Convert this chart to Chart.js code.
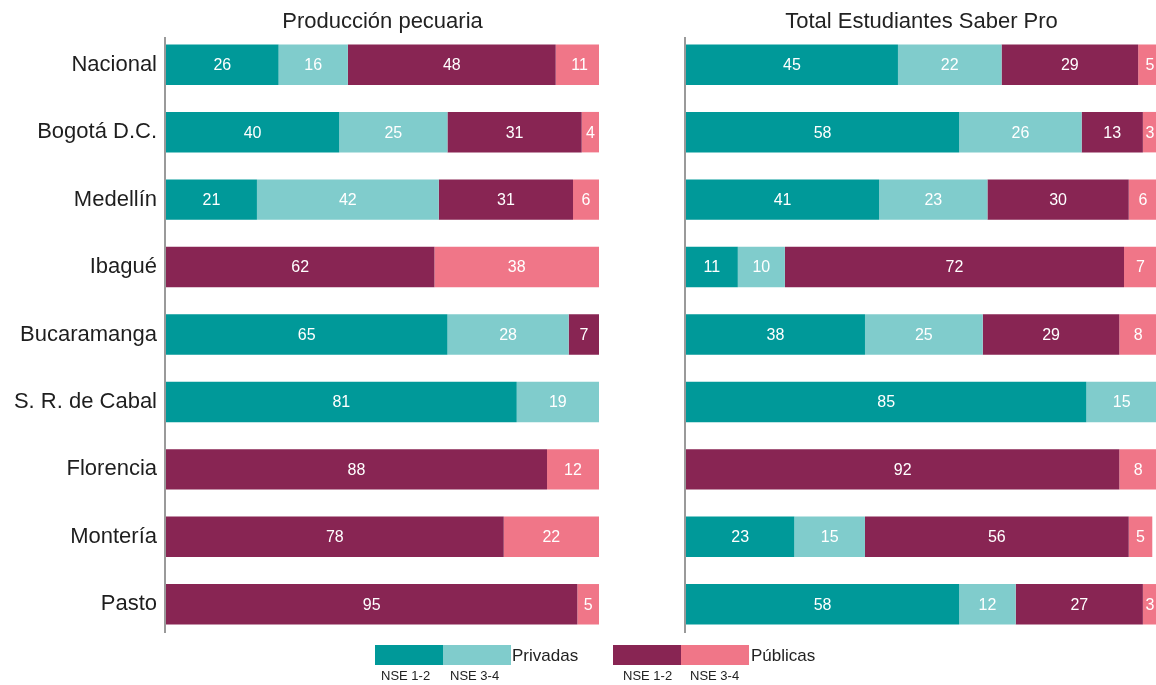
<!DOCTYPE html>
<html>
<head>
<meta charset="utf-8">
<script src="https://cdn.jsdelivr.net/npm/chart.js@4/dist/chart.umd.min.js"></script>
<style>
  html, body { margin: 0; padding: 0; background: #fff; }
  #wrap { position: relative; width: 1156px; height: 685px; overflow: hidden; font-family: 'Liberation Sans', Arial, sans-serif; }
  .cv { position: absolute; top: 0; }
  .sw { position: absolute; top: 645px; height: 20px; }
  .lt { position: absolute; color: #222; white-space: nowrap; line-height: 1; }
</style>
</head>
<body>
<div id="wrap">
  <div class="cv" style="left:0px;width:610px;height:685px;"><canvas id="c1" width="610" height="685"></canvas></div>
  <div class="cv" style="left:620px;width:560px;height:685px;"><canvas id="c2" width="560" height="685"></canvas></div>
  <div id="legend"></div>
</div>
<script>
// ---- Data ----
const categories = ['Nacional', 'Bogotá D.C.', 'Medellín', 'Ibagué', 'Bucaramanga', 'S. R. de Cabal', 'Florencia', 'Montería', 'Pasto'];
const seriesNames = ['Privadas NSE 1-2', 'Privadas NSE 3-4', 'Públicas NSE 1-2', 'Públicas NSE 3-4'];
const chartTitles = ['Producción pecuaria', 'Total Estudiantes Saber Pro'];

// Producción pecuaria
const pecPriv12 = [26, 40, 21, null, 65, 81, null, null, null];
const pecPriv34 = [16, 25, 42, null, 28, 19, null, null, null];
const pecPub12  = [48, 31, 31, 62, 7, null, 88, 78, 95];
const pecPub34  = [11, 4, 6, 38, null, null, 12, 22, 5];

// Total Estudiantes Saber Pro
const totPriv12 = [45, 58, 41, 11, 38, 85, null, 23, 58];
const totPriv34 = [22, 26, 23, 10, 25, 15, null, 15, 12];
const totPub12  = [29, 13, 30, 72, 29, null, 92, 56, 27];
const totPub34  = [5, 3, 6, 7, 8, null, 8, 5, 3];

const colors = ['#009999', '#80CCCC', '#882553', '#F07688'];
const FONT = "'Liberation Sans', Arial, sans-serif";

const valueLabels = {
  id: 'valueLabels',
  afterDatasetsDraw(chart) {
    const ctx = chart.ctx;
    ctx.save();
    ctx.font = '16px ' + FONT;
    ctx.fillStyle = '#ffffff';
    ctx.textAlign = 'center';
    ctx.textBaseline = 'middle';
    chart.data.datasets.forEach((ds, i) => {
      const meta = chart.getDatasetMeta(i);
      meta.data.forEach((bar, j) => {
        const v = ds.data[j];
        if (v == null) return;
        const p = bar.getProps(['x', 'y', 'base'], true);
        ctx.fillText(String(v), (p.x + p.base) / 2, p.y + 1);
      });
    });
    ctx.restore();
  }
};

const axisLineAndTitle = {
  id: 'axisLineAndTitle',
  afterDraw(chart, args, opts) {
    const ctx = chart.ctx;
    const a = chart.chartArea;
    ctx.save();
    ctx.strokeStyle = '#9a9a9a';
    ctx.lineWidth = 2;
    ctx.beginPath();
    ctx.moveTo(a.left - 1, a.top + 6);
    ctx.lineTo(a.left - 1, a.bottom - 5);
    ctx.stroke();
    ctx.font = '22px ' + FONT;
    ctx.fillStyle = '#222';
    ctx.textAlign = 'center';
    ctx.textBaseline = 'alphabetic';
    ctx.fillText(opts.text, opts.cx, 28);
    ctx.restore();
  }
};

function makeChart(id, data, yWidth, showLabels, padRight, title, titleCx) {
  return new Chart(document.getElementById(id), {
    type: 'bar',
    data: {
      labels: categories,
      datasets: data.map((d, i) => ({
        label: seriesNames[i],
        data: d,
        backgroundColor: colors[i],
        borderWidth: 0,
        categoryPercentage: 1,
        barPercentage: 0.6
      }))
    },
    options: {
      indexAxis: 'y',
      responsive: false,
      animation: false,
      layout: { padding: { top: 31, bottom: 47, left: 0, right: padRight } },
      plugins: {
        legend: { display: false },
        tooltip: { enabled: false },
        title: { display: false },
        axisLineAndTitle: { text: title, cx: titleCx }
      },
      scales: {
        x: { stacked: true, display: false, min: 0, max: 100 },
        y: {
          stacked: true,
          grid: { display: false, drawTicks: false, tickLength: 0 },
          border: { display: false },
          ticks: { display: showLabels, color: '#1e1e1e', font: { family: FONT, size: 22 }, padding: 9 },
          afterFit(scale) { scale.width = yWidth; }
        }
      }
    },
    plugins: [valueLabels, axisLineAndTitle]
  });
}

makeChart('c1', [pecPriv12, pecPriv34, pecPub12, pecPub34], 166, true, 11, chartTitles[0], 382.5);
makeChart('c2', [totPriv12, totPriv34, totPub12, totPub34], 66, false, 23, chartTitles[1], 921.5 - 620);

// ---- Legend (HTML) ----
const legendGroups = [
  { name: 'Privadas', x: 375, cols: [colors[0], colors[1]], textX: 512, subX: [381, 450] },
  { name: 'Públicas', x: 613, cols: [colors[2], colors[3]], textX: 751, subX: [623, 690] }
];
const subLabels = ['NSE 1-2', 'NSE 3-4'];
const lg = document.getElementById('legend');
legendGroups.forEach(g => {
  g.cols.forEach((c, k) => {
    const d = document.createElement('div');
    d.className = 'sw';
    d.style.left = (g.x + k * 68) + 'px';
    d.style.width = '68px';
    d.style.background = c;
    lg.appendChild(d);
    const s = document.createElement('div');
    s.className = 'lt';
    s.style.left = g.subX[k] + 'px';
    s.style.top = '669px';
    s.style.fontSize = '13px';
    s.textContent = subLabels[k];
    lg.appendChild(s);
  });
  const t = document.createElement('div');
  t.className = 'lt';
  t.style.left = g.textX + 'px';
  t.style.top = '647px';
  t.style.fontSize = '17px';
  t.textContent = g.name;
  lg.appendChild(t);
});
</script>
</body>
</html>
